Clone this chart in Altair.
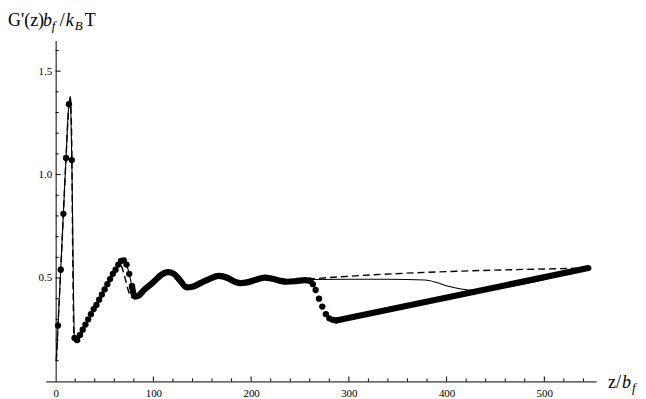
import altair as alt
import pandas as pd

# ---------------- data ----------------
# thin solid curve
thin_x = [0.7, 2.4, 5.2, 7.9, 10.6, 13.6, 15.0, 16.5, 19.3, 22.1, 30.5, 41.7, 52.9, 61.3, 66.9,
          69.7, 72.5, 75.3, 78.1, 81, 85, 90, 100, 108, 115, 121, 127, 134, 140, 148, 157, 167,
          176, 183, 189, 197, 205, 214, 222, 230, 237, 246, 255, 262, 300, 340, 378, 390, 402,
          415, 425, 440, 545]
thin_y = [0.10, 0.27, 0.54, 0.81, 1.08, 1.34, 1.375, 1.07, 0.21, 0.20, 0.275, 0.37, 0.47, 0.54, 0.583,
          0.585, 0.565, 0.52, 0.46, 0.41, 0.415, 0.44, 0.48, 0.515, 0.528, 0.52, 0.49, 0.455, 0.458,
          0.475, 0.495, 0.51, 0.50, 0.483, 0.475, 0.48, 0.492, 0.502, 0.496, 0.486, 0.482, 0.485,
          0.49, 0.493, 0.494, 0.494, 0.49, 0.478, 0.46, 0.447, 0.441, 0.445, 0.548]

# dashed curve
dash_x = [0.7, 2.4, 5.2, 7.9, 10.6, 13.6, 15.0, 16.3, 17.5, 18.7, 20.3, 22.1, 30.5, 41.7, 52.9,
          61.3, 64.5, 67.5, 71, 75, 78.5, 82, 88, 98, 106, 113, 119, 125, 131, 137, 145, 155,
          165, 174, 181, 188, 196, 204, 213, 221, 229, 236, 246, 255, 260, 545]
dash_y = [0.10, 0.27, 0.54, 0.81, 1.08, 1.34, 1.375, 1.2, 0.6, 0.21, 0.19, 0.20, 0.275, 0.37, 0.47,
          0.545, 0.57, 0.555, 0.50, 0.43, 0.405, 0.408, 0.43, 0.47, 0.51, 0.526, 0.515, 0.485,
          0.455, 0.452, 0.468, 0.492, 0.508, 0.50, 0.484, 0.474, 0.478, 0.492, 0.502, 0.496,
          0.486, 0.482, 0.485, 0.492, 0.495, 0.548]

# dotted curve: separate beads
dots_x = [2.4, 5.2, 7.9, 10.6, 13.6, 16.5, 19.3, 22.1, 24.9, 27.7, 30.5, 33.3, 36.1, 38.9, 41.7,
          44.5, 47.3, 50.1, 52.9, 55.7, 58.5, 61.3, 64.1, 66.9, 69.7, 72.5, 75.3, 78.1, 80.9,
          260.5, 263.2, 266.0, 269.4, 272.8, 276.5, 280.0, 283.5, 287.0]
dots_y = [0.27, 0.54, 0.81, 1.08, 1.34, 1.07, 0.21, 0.20, 0.225, 0.25, 0.275, 0.30, 0.325, 0.35,
          0.37, 0.395, 0.42, 0.445, 0.47, 0.495, 0.52, 0.54, 0.565, 0.583, 0.585, 0.565, 0.52,
          0.46, 0.415, 0.487, 0.47, 0.442, 0.40, 0.362, 0.325, 0.305, 0.298, 0.295]

# dotted curve: where the beads merge into a thick band
thick_x = [78.1, 81, 85, 90, 100, 108, 115, 121, 127, 134, 140, 148, 157, 167, 176, 183, 189, 197,
           205, 214, 222, 230, 237, 246, 255, 260.5,
           287, 545]
thick_y = [0.46, 0.41, 0.415, 0.44, 0.48, 0.515, 0.528, 0.52, 0.49, 0.455, 0.458, 0.475, 0.495,
           0.51, 0.50, 0.483, 0.475, 0.48, 0.492, 0.502, 0.496, 0.486, 0.482, 0.485, 0.49, 0.487,
           0.295, 0.548]
thick_seg = ["a"] * 26 + ["b"] * 2

x_labels = [0, 100, 200, 300, 400, 500]
x_minor = [20, 40, 60, 80, 120, 140, 160, 180, 220, 240, 260, 280, 320, 340, 360, 380,
           420, 440, 460, 480, 520, 540]
y_labels = [0.5, 1.0, 1.5]
y_minor = [0.1, 0.2, 0.3, 0.4, 0.6, 0.7, 0.8, 0.9, 1.1, 1.2, 1.3, 1.4, 1.6]

# ---------------- layout ----------------
W, H = 552, 342
XDOM = [-10, 553]
YDOM = [0, 1.648]
pxx = W / (XDOM[1] - XDOM[0])
pxy = H / (YDOM[1] - YDOM[0])
SERIF = "Liberation Serif"

xs = alt.Scale(domain=XDOM, nice=False, zero=False)
ys = alt.Scale(domain=YDOM, nice=False, zero=False)

x_axis = alt.Axis(values=x_labels, ticks=False, grid=False, domain=True, domainColor="black",
                  domainWidth=1, labelFont=SERIF, labelFontSize=11, labelColor="black",
                  labelPadding=6, title=None)
y_axis = alt.Axis(values=y_labels, format=".1f", ticks=False, grid=False, domain=True,
                  domainColor="black", domainWidth=1, offset=-(0 - XDOM[0]) * pxx,
                  labelFont=SERIF, labelFontSize=11, labelColor="black", labelPadding=4,
                  title=None)

thin_df = pd.DataFrame({"x": thin_x, "y": thin_y})
dash_df = pd.DataFrame({"x": dash_x, "y": dash_y})
dots_df = pd.DataFrame({"x": dots_x, "y": dots_y})
thick_df = pd.DataFrame({"x": thick_x, "y": thick_y, "seg": thick_seg})


def X():
    return alt.X("x:Q", scale=xs, axis=x_axis)


def Y():
    return alt.Y("y:Q", scale=ys, axis=y_axis)


dashed = alt.Chart(dash_df).mark_line(color="black", strokeWidth=1.4, strokeDash=[7, 4],
                                      interpolate="monotone").encode(x=X(), y=Y())
thin = alt.Chart(thin_df).mark_line(color="black", strokeWidth=1.1,
                                    interpolate="monotone").encode(x=X(), y=Y())
thick = alt.Chart(thick_df).mark_line(color="black", strokeWidth=6.2, strokeCap="round",
                                      strokeJoin="round", interpolate="monotone").encode(
    x=X(), y=Y(), detail="seg:N")
dots = alt.Chart(dots_df).mark_circle(color="black", size=40, opacity=1).encode(x=X(), y=Y())

# inward ticks
xt = pd.DataFrame({"x": x_labels[1:] + x_minor,
                   "len": [5] * (len(x_labels) - 1) + [3] * len(x_minor)})
xt["y"] = 0.0
xt["y2"] = xt["len"] / pxy
x_ticks = alt.Chart(xt).mark_rule(color="black", strokeWidth=1).encode(
    x=X(), y=Y(), y2="y2:Q")
yt = pd.DataFrame({"y": y_labels + y_minor,
                   "len": [5] * len(y_labels) + [3] * len(y_minor)})
yt["x"] = 0.0
yt["x2"] = yt["len"] / pxx
y_ticks = alt.Chart(yt).mark_rule(color="black", strokeWidth=1).encode(
    x=X(), x2="x2:Q", y=Y())


def txt(s, x, y, size=18, italic=False):
    return alt.Chart(pd.DataFrame({"t": [s]})).mark_text(
        font=SERIF, fontSize=size, fontStyle="italic" if italic else "normal",
        align="left", baseline="alphabetic", color="black").encode(
        text="t:N", x=alt.value(x), y=alt.value(y))


# y title G'(z) b_f / k_B T (plot origin at page (46, 40))
ty = -15
title = [
    txt("G'(z)", -38, ty),
    txt("b", -3, ty, italic=True),
    txt("f", 6, ty + 4, size=13, italic=True),
    txt("/", 14, ty),
    txt("k", 20, ty, italic=True),
    txt("B", 29, ty + 4, size=13, italic=True),
    txt("T", 39, ty),
]
xy = 349
xlab = [
    txt("z", 564, xy),
    txt("/", 572, xy),
    txt("b", 578, xy, italic=True),
    txt("f", 588, xy + 4, size=13, italic=True),
]

chart = alt.layer(dashed, thin, thick, dots, x_ticks, y_ticks, *title, *xlab).properties(
    width=W, height=H,
    autosize=alt.AutoSizeParams(type="none"),
    padding={"left": 38, "top": 32, "right": 42, "bottom": 17},
).configure_view(stroke=None)

chart.save("out.html", embed_options={"renderer": "svg", "actions": False})
